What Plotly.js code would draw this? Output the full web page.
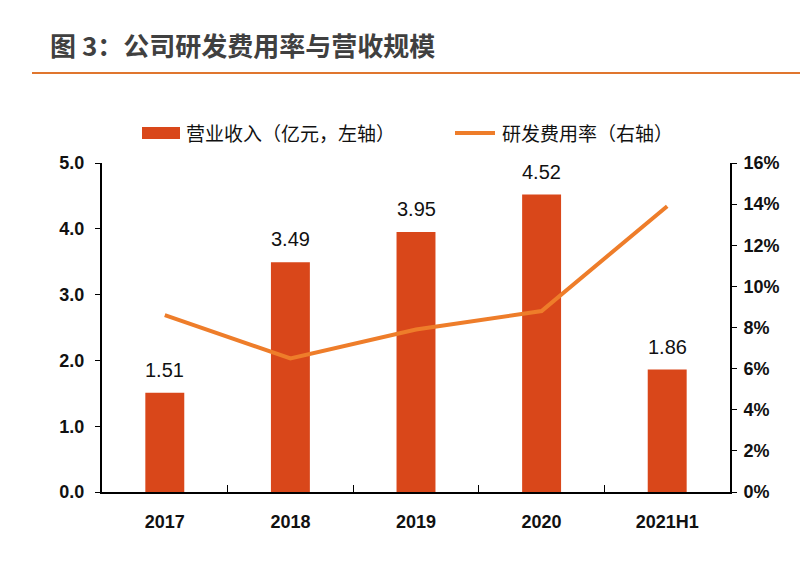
<!DOCTYPE html>
<html>
<head>
<meta charset="utf-8">
<script src="https://cdn.plot.ly/plotly-3.0.1.min.js"></script>
<style>
  html, body { margin: 0; padding: 0; background: #fff; }
  #chart { width: 800px; height: 568px; }
</style>
</head>
<body>
<div id="chart"></div>
<script>
const CHART = document.getElementById('chart');

const years = ['2017', '2018', '2019', '2020', '2021H1'];
const revenue = [1.51, 3.49, 3.95, 4.52, 1.86];      // 亿元
const rdRate = [0.086, 0.065, 0.079, 0.088, 0.139];  // 研发费用率

const BAR = '#D9471A';
const LINE = '#EE7D2A';
const TXT = '#111111';
const FONT = 'Liberation Sans, Arial, sans-serif';
const CJK = 'Noto Sans CJK SC, sans-serif';

// plot area in pixels, used to place the hand-made legend
const L = 102, R = 730, T = 163, B = 492;
const px = (x) => (x - L) / (R - L);
const py = (y) => (B - y) / (B - T);

const traces = [
    {
        x: years,
        y: revenue,
        type: 'bar',
        name: '营业收入（亿元，左轴）',
        marker: { color: BAR },
        width: 0.31,
        hoverinfo: 'x+y'
    },
    {
        x: years,
        y: rdRate,
        type: 'scatter',
        mode: 'lines',
        name: '研发费用率（右轴）',
        yaxis: 'y2',
        line: { color: LINE, width: 4 }
    }
];

// value labels above bars (x as category index: "2017" would be read as a number)
const labels = years.map((yr, i) => ({
    x: i,
    y: revenue[i],
    text: revenue[i].toFixed(2),
    showarrow: false,
    yanchor: 'bottom',
    yshift: 10,
    font: { family: FONT, size: 20, color: TXT }
}));

const legendText = [
    { x: px(184), y: py(133), text: '营业收入（亿元，左轴）' },
    { x: px(500), y: py(133), text: '研发费用率（右轴）' }
].map(a => ({
    xref: 'paper', yref: 'paper', x: a.x, y: a.y, text: a.text,
    showarrow: false, xanchor: 'left', yanchor: 'middle',
    font: { family: CJK, size: 19, color: TXT }
}));

const tickFont = { family: FONT, size: 18, color: TXT, weight: 'bold' };

const layout = {
    width: 800,
    height: 568,
    paper_bgcolor: '#fff',
    plot_bgcolor: '#fff',
    showlegend: false,
    margin: { l: L, r: 800 - R, t: T, b: 568 - B },
    title: {
        text: '<b>图 3：公司研发费用率与营收规模</b>',
        x: 50 / 800,
        xanchor: 'left',
        xref: 'container',
        y: 1 - 47 / 568,
        yanchor: 'middle',
        yref: 'container',
        font: { family: CJK, size: 26, color: '#404040' }
    },
    font: { family: FONT, color: TXT },
    xaxis: {
        type: 'category',
        range: [-0.5, years.length - 0.5],
        showline: true,
        linecolor: '#000',
        linewidth: 2,
        ticks: 'inside',
        tickson: 'boundaries',
        ticklen: 7,
        tickcolor: '#000',
        tickangle: 0,
        ticklabelstandoff: 12,
        tickfont: tickFont,
        showgrid: false
    },
    yaxis: {
        range: [0, 5],
        dtick: 1,
        tickformat: '.1f',
        showline: true,
        linecolor: '#000',
        linewidth: 2,
        ticks: 'outside',
        ticklen: 5,
        tickcolor: '#000',
        ticklabelstandoff: 7,
        showgrid: false,
        zeroline: false,
        tickfont: tickFont
    },
    yaxis2: {
        overlaying: 'y',
        side: 'right',
        range: [0, 0.16],
        dtick: 0.02,
        tickformat: '.0%',
        showline: true,
        linecolor: '#000',
        linewidth: 2,
        ticks: 'outside',
        ticklen: 5,
        tickcolor: '#000',
        ticklabelstandoff: 3,
        showgrid: false,
        zeroline: false,
        tickfont: tickFont
    },
    shapes: [
        // rule under the title
        { type: 'line', xref: 'paper', yref: 'paper',
          x0: px(32), x1: px(800), y0: py(73), y1: py(73),
          line: { color: '#E0762E', width: 2 } },
        // legend swatches
        { type: 'rect', xref: 'paper', yref: 'paper',
          x0: px(142), x1: px(180), y0: py(139), y1: py(127),
          fillcolor: BAR, line: { width: 0 } },
        { type: 'line', xref: 'paper', yref: 'paper',
          x0: px(455), x1: px(495), y0: py(133), y1: py(133),
          line: { color: LINE, width: 4 } }
    ],
    annotations: labels.concat(legendText)
};

Plotly.newPlot(CHART, traces, layout, { displayModeBar: false, staticPlot: true });
</script>
</body>
</html>
